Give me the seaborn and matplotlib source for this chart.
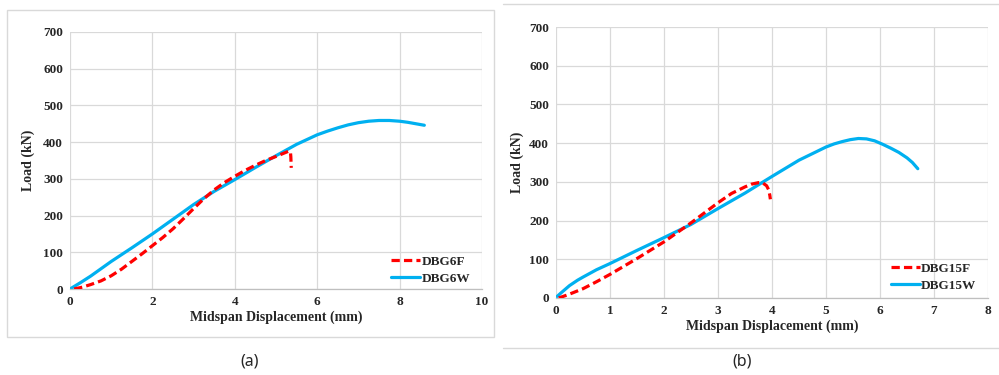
import matplotlib
matplotlib.use("Agg")
import matplotlib.pyplot as plt
from matplotlib.lines import Line2D
from matplotlib.patches import Rectangle
import seaborn as sns
import pandas as pd

# ---------------- data ----------------
dbg6f_x = [0.1, 0.3, 0.5, 0.75, 1.0, 1.25, 1.5, 1.75, 2.0, 2.25, 2.5, 2.75, 3.0, 3.25, 3.5,
           3.75, 4.0, 4.25, 4.5, 4.75, 5.0, 5.15, 5.3, 5.35, 5.36, 5.37]
dbg6f_y = [0, 5, 12, 22, 36, 54, 75, 96, 118, 140, 164, 191, 219, 246, 270,
           290, 307, 323, 337, 350, 361, 368, 375, 374, 360, 330]

dbg6w_x = [0, 0.25, 0.5, 0.75, 1.0, 1.5, 2.0, 2.5, 3.0, 3.5, 4.0, 4.5, 5.0, 5.5, 6.0,
           6.25, 6.5, 6.75, 7.0, 7.25, 7.5, 7.75, 8.0, 8.2, 8.4, 8.6]
dbg6w_y = [0, 17, 35, 55, 75, 112, 150, 190, 230, 266, 298, 331, 363, 394, 420,
           430, 439, 447, 453, 457, 459, 459, 457, 454, 450, 446]

dbg15f_x = [0.05, 0.25, 0.5, 0.75, 1.0, 1.5, 2.0, 2.5, 2.75, 3.0, 3.25, 3.5, 3.62, 3.75,
            3.83, 3.9, 3.94, 3.96, 3.97]
dbg15f_y = [0, 10, 24, 42, 61, 102, 145, 194, 220, 246, 270, 287, 294, 298,
            297, 290, 279, 265, 255]

dbg15w_x = [0.02, 0.1, 0.25, 0.4, 0.5, 0.75, 1.0, 1.5, 2.0, 2.5, 3.0, 3.5, 4.0, 4.5,
            5.0, 5.15, 5.3, 5.45, 5.6, 5.75, 5.9, 6.05, 6.2, 6.35, 6.5, 6.6, 6.7]
dbg15w_y = [4, 14, 32, 46, 54, 73, 89, 123, 156, 190, 231, 271, 314, 356,
            390, 398, 404, 409, 412, 411, 406, 397, 387, 376, 362, 350, 334]

left_labels = ["DBG6F", "DBG6W"]
right_labels = ["DBG15F", "DBG15W"]
captions = ["(a)", "(b)"]
x_label = "Midspan Displacement (mm)"
y_label = "Load (kN)"
y_ticks = [0, 100, 200, 300, 400, 500, 600, 700]
left_xticks = [0, 2, 4, 6, 8, 10]
right_xticks = [0, 1, 2, 3, 4, 5, 6, 7, 8]

# ---------------- style ----------------
sns.set_theme(style="white")
plt.rcParams["font.family"] = ["Liberation Serif", "DejaVu Serif"]

RED = "#FF0000"
BLUE = "#00B0F0"
GRID = "#D9D9D9"
LW = 2.3
DASH = (0, (2.6, 1.3))

fig = plt.figure(figsize=(9.99, 3.75), dpi=100)

def make_panel(rect, fx, fy, wx, wy, labels, xticks, xmax, leg_anchor, xlab_pad, ylab_pad):
    ax = fig.add_axes(rect)
    df_f = pd.DataFrame({"x": fx, "y": fy})
    df_w = pd.DataFrame({"x": wx, "y": wy})
    sns.lineplot(data=df_f, x="x", y="y", ax=ax, sort=False, estimator=None,
                 color=RED, linewidth=LW, linestyle=DASH, zorder=3)
    sns.lineplot(data=df_w, x="x", y="y", ax=ax, sort=False, estimator=None,
                 color=BLUE, linewidth=LW, zorder=2)
    ax.set_xlim(0, xmax)
    ax.set_ylim(0, 700)
    ax.set_xticks(xticks)
    ax.set_yticks(y_ticks)
    ax.grid(True, color=GRID, linewidth=0.9)
    for s in ["top", "right", "left"]:
        ax.spines[s].set_visible(False)
    ax.spines["bottom"].set_color("#BFBFBF")
    ax.spines["bottom"].set_linewidth(0.9)
    ax.tick_params(axis="both", length=0, labelsize=9.5, pad=5)
    for t in ax.get_xticklabels() + ax.get_yticklabels():
        t.set_fontweight("bold")
    ax.set_xlabel(x_label, fontsize=10, fontweight="bold", labelpad=xlab_pad)
    ax.set_ylabel(y_label, fontsize=10, fontweight="bold", labelpad=ylab_pad)
    handles = [Line2D([0], [0], color=RED, linewidth=LW, linestyle=DASH),
               Line2D([0], [0], color=BLUE, linewidth=LW)]
    ax.legend(handles, labels, loc="lower right", bbox_to_anchor=leg_anchor,
              frameon=False, handlelength=2.2, handletextpad=0.1,
              labelspacing=0.35,
              prop={"family": "Liberation Serif", "weight": "bold", "size": 9.5})
    return ax

# left panel
make_panel([70 / 999, 1 - 289 / 375, 412 / 999, 257 / 375],
           dbg6f_x, dbg6f_y, dbg6w_x, dbg6w_y, left_labels, left_xticks, 10,
           (1.0, -0.03), 2, 6)
# right panel
make_panel([556 / 999, 1 - 298 / 375, 432 / 999, 271 / 375],
           dbg15f_x, dbg15f_y, dbg15w_x, dbg15w_y, right_labels, right_xticks, 8,
           (1.0, -0.02), 2, 4)

# outer frames
fig.add_artist(Rectangle((7 / 999, 1 - 337 / 375), 487 / 999, 327 / 375,
                         transform=fig.transFigure, fill=False,
                         edgecolor=GRID, linewidth=1.0))
fig.add_artist(Line2D([503 / 999, 1.0], [1 - 4 / 375, 1 - 4 / 375],
                      transform=fig.transFigure, color=GRID, linewidth=1.0))
fig.add_artist(Line2D([503 / 999, 1.0], [1 - 348 / 375, 1 - 348 / 375],
                      transform=fig.transFigure, color=GRID, linewidth=1.0))

# captions
fig.text(250 / 999, 1 - 362 / 375, captions[0], ha="center", va="center",
         fontsize=11.5, family=["Noto Sans", "DejaVu Sans"])
fig.text(742 / 999, 1 - 362 / 375, captions[1], ha="center", va="center",
         fontsize=11.5, family=["Noto Sans", "DejaVu Sans"])

fig.savefig("out.png", dpi=100)
